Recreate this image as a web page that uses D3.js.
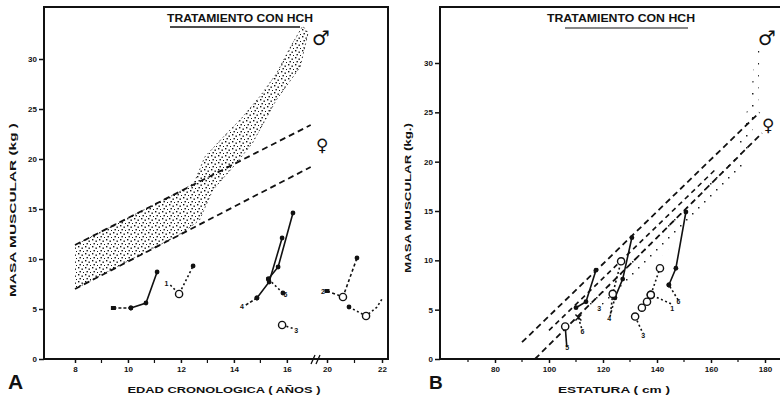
<!DOCTYPE html>
<html>
<head>
<meta charset="utf-8">
<script src="https://cdn.jsdelivr.net/npm/d3@7"></script>
<style>
  body { margin: 0; background: #fff; }
  svg { display: block; }
  text { font-family: "Liberation Sans", Arial, sans-serif; font-weight: bold; fill: #111; }
  text.sym { font-family: "DejaVu Sans"; font-weight: normal; fill: #111; }
</style>
</head>
<body>
<script>
// tick values
var kgTicks = [0, 5, 10, 15, 20, 25, 30];
var ageTicks = [8, 10, 12, 14, 16, 20, 22];
var ageMinor = [9, 11, 13, 15, 21];
var heightTicks = [80, 100, 120, 140, 160, 180];
var heightMinor = [70, 90, 110, 130, 150, 170];

// panel A : normal male band (stippled), [age, kg]
var bandUpperA = [[8, 11.4], [10, 14.1], [12, 16.8], [12.5, 17.6], [12.9, 20.2], [13.6, 22.2], [14.3, 24.1], [15, 26.3], [15.6, 28.5], [16.2, 31.5], [16.6, 33.3]];
var bandLowerA = [[8, 7.0], [10, 9.8], [12, 12.5], [12.7, 13.9], [13.2, 16.9], [14.0, 19.3], [14.7, 21.6], [15.6, 25.9], [16.5, 29.2], [16.8, 32.6], [16.6, 33.3]];
// panel A : female limits (dashed)
var femUpperA = [[8, 11.4], [16.9, 23.4]];
var femLowerA = [[8, 7.0], [16.9, 19.2]];

// panel A patients: [age, kg, marker]  f filled, o open, s square, '' none
var a1 = [[11.6, 7.4, ""], [11.93, 6.5, "o"], [12.46, 9.3, "f"]];
var a2 = [[9.45, 5.1, "s"], [10.11, 5.1, "f"]];
var a2b = [[10.11, 5.1, "f"], [10.68, 5.6, "f"], [11.1, 8.7, "f"]];
var a4 = [[14.45, 5.4, ""], [14.87, 6.1, "f"]];
var a4b = [[14.87, 6.1, "f"], [15.33, 7.7, "f"], [15.82, 12.1, "f"]];
var a6 = [[15.85, 6.6, "f"], [15.3, 8.0, "f"]];
var a6b = [[15.3, 8.0, "f"], [15.67, 9.2, "f"], [16.23, 14.6, "f"]];
var a3 = [[15.82, 3.4, "o"], [16.3, 3.0, ""]];
var a7 = [[20.0, 6.8, "s"], [20.58, 6.2, "o"], [21.09, 10.1, "f"]];
var a8 = [[20.8, 5.2, "f"], [21.42, 4.3, "o"], [21.82, 5.2, ""], [22.0, 6.0, ""]];

// panel B : lines, [cm, kg]
var lineUpperB = [[90, 1.7], [178, 25.0]];
var lineMidB = [[100, 2.9], [162, 19.3]];
var lineLowerB = [[94.8, 0], [178.9, 22.9]];
var bandB = [[112, 5.5], [135, 11.5], [155, 16.5], [170, 21.5], [175, 27], [176.5, 32], [178, 32], [177.5, 26], [172, 19], [160, 15.5], [140, 10], [120, 5.5]];

// panel B patients: [cm, kg, marker]
var b3 = [[110, 5.2, "f"], [113.7, 5.8, "f"], [117.4, 9.0, "f"]];
var b4 = [[122.6, 4.3, ""], [124.4, 6.2, "f"]];
var b4b = [[124.4, 6.2, "f"], [127.3, 8.1, "f"], [130.7, 12.3, "f"]];
var b1a = [[122.8, 4.6, ""], [123.6, 6.6, "o"], [126.7, 9.9, "o"]];
var b6 = [[147.8, 6.0, ""], [144.4, 7.5, "f"]];
var b6b = [[144.4, 7.5, "f"], [147, 9.2, "f"], [150.7, 14.9, "f"]];
var b1 = [[145.2, 5.6, ""], [137.7, 6.5, "o"], [136.3, 5.8, "o"], [134.4, 5.2, "o"], [137.7, 6.5, "o"], [141.1, 9.2, "o"]];
var b3b = [[131.9, 4.3, "o"], [134.8, 2.6, ""]];
var b5 = [[106, 3.3, "o"], [106.6, 1.2, ""]];
var b6c = [[110.9, 4.2, "x"], [112.2, 3.0, ""]];

// labels next to patients
var labelsA = [["1", 11.45, 7.3], ["4", 14.3, 5.0], ["6", 15.95, 6.2], ["3", 16.35, 2.6], ["2", 19.85, 6.5]];
var labelsB = [["3", 118.6, 4.9], ["4", 122.3, 3.9], ["6", 147.9, 5.6], ["1", 145.6, 4.9], ["3", 134.9, 2.1], ["5", 106.7, 0.9], ["6", 112.4, 2.5]];

var W = 780, H = 397;
var svg = d3.select('body').append('svg').attr('width', W).attr('height', H);

// stipple pattern for the male band
var defs = svg.append('defs');
var pat = defs.append('pattern').attr('id', 'dots').attr('patternUnits', 'userSpaceOnUse')
    .attr('width', 7).attr('height', 7);
[[1, 1], [4.5, 2.5], [2.5, 5], [6, 6]].forEach(function(p) {
    pat.append('rect').attr('x', p[0]).attr('y', p[1]).attr('width', 1.4).attr('height', 1.4).attr('fill', '#111');
});
var pat2 = defs.append('pattern').attr('id', 'sparse').attr('patternUnits', 'userSpaceOnUse')
    .attr('width', 12).attr('height', 12);
[[2, 3], [8, 9]].forEach(function(p) {
    pat2.append('rect').attr('x', p[0]).attr('y', p[1]).attr('width', 1.5).attr('height', 1.5).attr('fill', '#222');
});

// scales
var xA = d3.scaleLinear().domain([8, 17.1, 19.6, 22]).range([75, 316, 316, 382]);
var yA = d3.scaleLinear().domain([0, 10]).range([359, 259]);
var xB = d3.scaleLinear().domain([80, 180]).range([495, 765]);
var yB = d3.scaleLinear().domain([0, 15]).range([359, 211]);

var gA = svg.append('g'), gB = svg.append('g');

function drawPanel(g, x, y, box) {
    // y axis
    g.append('g').attr('transform', 'translate(' + box[0] + ',0)')
        .call(d3.axisLeft(y).tickValues(kgTicks).tickSize(5).tickPadding(2))
        .call(function(s) {
            s.select('.domain').remove();
            s.selectAll('line').attr('stroke', '#111').attr('stroke-width', 1.5);
            s.selectAll('text').style('font-size', '8px').style('font-family', 'Liberation Sans').style('font-weight', 'bold');
        });
    g.append('rect').attr('x', box[0]).attr('y', box[1])
        .attr('width', box[2] - box[0]).attr('height', box[3] - box[1])
        .attr('fill', 'none').attr('stroke', '#111').attr('stroke-width', 2);
}

function pathLine(g, data, x, y, dash, w) {
    g.append('path').datum(data)
        .attr('d', d3.line().x(function(d) { return x(d[0]); }).y(function(d) { return y(d[1]); }))
        .attr('fill', 'none').attr('stroke', '#111')
        .attr('stroke-width', w || 1.6)
        .attr('stroke-dasharray', dash || null);
}

function markers(g, data, x, y) {
    data.forEach(function(d) {
        var px = x(d[0]), py = y(d[1]);
        if (d[2] === 'f') g.append('circle').attr('cx', px).attr('cy', py).attr('r', 2.4).attr('fill', '#111');
        if (d[2] === 'o') g.append('circle').attr('cx', px).attr('cy', py).attr('r', 3.6)
            .attr('fill', '#fff').attr('stroke', '#111').attr('stroke-width', 1.4);
        if (d[2] === 's') g.append('rect').attr('x', px - 2.5).attr('y', py - 2).attr('width', 5).attr('height', 4).attr('fill', '#111');
        if (d[2] === 'x') g.append('path').attr('d', 'M' + (px - 3) + ',' + (py - 3) + 'L' + (px + 3) + ',' + (py + 3) +
            'M' + (px + 3) + ',' + (py - 3) + 'L' + (px - 3) + ',' + (py + 3)).attr('stroke', '#111').attr('stroke-width', 1.5);
    });
}

function traj(g, data, x, y, dash) {
    pathLine(g, data, x, y, dash, 1.6);
    markers(g, data, x, y);
}

// ---------------- panel A ----------------
drawPanel(gA, xA, yA, [44, 7, 388, 359]);

var bandArea = bandUpperA.concat(bandLowerA.slice().reverse());
gA.append('path').datum(bandArea)
    .attr('d', d3.line().x(function(d) { return xA(d[0]); }).y(function(d) { return yA(d[1]); }))
    .attr('fill', 'url(#dots)').attr('stroke', '#111').attr('stroke-width', 0.8).attr('stroke-dasharray', '1.5,3');
pathLine(gA, femUpperA, xA, yA, '6,4', 1.8);
pathLine(gA, femLowerA, xA, yA, '6,4', 1.8);

// x axis of A
gA.append('g').attr('transform', 'translate(0,359)')
    .call(d3.axisBottom(xA).tickValues(ageTicks).tickSize(4).tickPadding(3))
    .call(function(s) {
        s.select('.domain').remove();
        s.selectAll('line').attr('stroke', '#111').attr('stroke-width', 1.5);
        s.selectAll('text').style('font-size', '8px').style('font-family', 'Liberation Sans').style('font-weight', 'bold');
    });
ageMinor.forEach(function(a) {
    gA.append('line').attr('x1', xA(a)).attr('x2', xA(a)).attr('y1', 359).attr('y2', 363).attr('stroke', '#111').attr('stroke-width', 1.2);
});
// axis break
gA.append('path').attr('d', 'M311,364L315,355M316,364L320,355').attr('stroke', '#111').attr('stroke-width', 1.3);

traj(gA, a1, xA, yA, '2,2.5');
traj(gA, a2, xA, yA, '3,2');
traj(gA, a2b, xA, yA, null);
traj(gA, a4, xA, yA, '3,2');
traj(gA, a4b, xA, yA, null);
traj(gA, a6, xA, yA, '2,2.5');
traj(gA, a6b, xA, yA, null);
traj(gA, a3, xA, yA, '2,2.5');
traj(gA, a7, xA, yA, '3,2.5');
traj(gA, a8, xA, yA, '2,2.5');

labelsA.forEach(function(l) {
    gA.append('text').attr('x', xA(l[1])).attr('y', yA(l[2])).attr('text-anchor', 'middle')
        .style('font-size', '7px').text(l[0]);
});

gA.append('text').attr('class', 'sym').attr('x', 312).attr('y', 45).style('font-size', '20px').text('\u2642\uFE0E');
gA.append('text').attr('class', 'sym').attr('x', 316).attr('y', 151).style('font-size', '17px').text('\u2640\uFE0E');

gA.append('text').attr('x', 240).attr('y', 22).attr('text-anchor', 'middle')
    .attr('textLength', 146).attr('lengthAdjust', 'spacingAndGlyphs').style('font-size', '10px')
    .text('TRATAMIENTO CON HCH');
gA.append('line').attr('x1', 170).attr('x2', 300).attr('y1', 27).attr('y2', 27).attr('stroke', '#111').attr('stroke-width', 1.6);

gA.append('text').attr('x', 224).attr('y', 393).attr('text-anchor', 'middle')
    .attr('textLength', 193).attr('lengthAdjust', 'spacingAndGlyphs').style('font-size', '9px')
    .text('EDAD  CRONOLOGICA ( AÑOS )');
gA.append('text').attr('transform', 'translate(16,210) rotate(-90)').attr('text-anchor', 'middle')
    .attr('textLength', 174).attr('lengthAdjust', 'spacingAndGlyphs').style('font-size', '9px')
    .text('MASA MUSCULAR  (kg )');
gA.append('text').attr('x', 8).attr('y', 389).style('font-size', '21px').text('A');

// ---------------- panel B ----------------
drawPanel(gB, xB, yB, [440, 7, 792, 359]);

gB.append('path').datum(bandB)
    .attr('d', d3.line().x(function(d) { return xB(d[0]); }).y(function(d) { return yB(d[1]); }).curve(d3.curveLinearClosed))
    .attr('fill', 'url(#sparse)').attr('stroke', 'none');
pathLine(gB, lineUpperB, xB, yB, '6,4', 1.8);
pathLine(gB, lineMidB, xB, yB, '5,4', 1.6);
pathLine(gB, lineLowerB, xB, yB, '6,4', 1.8);

gB.append('g').attr('transform', 'translate(0,359)')
    .call(d3.axisBottom(xB).tickValues(heightTicks).tickSize(4).tickPadding(3))
    .call(function(s) {
        s.select('.domain').remove();
        s.selectAll('line').attr('stroke', '#111').attr('stroke-width', 1.5);
        s.selectAll('text').style('font-size', '8px').style('font-family', 'Liberation Sans').style('font-weight', 'bold');
    });
heightMinor.forEach(function(c) {
    gB.append('line').attr('x1', xB(c)).attr('x2', xB(c)).attr('y1', 359).attr('y2', 362).attr('stroke', '#111').attr('stroke-width', 1.2);
});

traj(gB, b3, xB, yB, null);
traj(gB, b4, xB, yB, '2,2.5');
traj(gB, b4b, xB, yB, null);
traj(gB, b1a, xB, yB, '2,2.5');
traj(gB, b6, xB, yB, '2,2.5');
traj(gB, b6b, xB, yB, null);
traj(gB, b1, xB, yB, '2,2.5');
traj(gB, b3b, xB, yB, '2,2.5');
traj(gB, b5, xB, yB, null);
traj(gB, b6c, xB, yB, '2,2.5');

labelsB.forEach(function(l) {
    gB.append('text').attr('x', xB(l[1])).attr('y', yB(l[2])).attr('text-anchor', 'middle')
        .style('font-size', '7px').text(l[0]);
});

gB.append('text').attr('class', 'sym').attr('x', 758).attr('y', 45).style('font-size', '20px').text('\u2642\uFE0E');
gB.append('text').attr('class', 'sym').attr('x', 762).attr('y', 131).style('font-size', '17px').text('\u2640\uFE0E');

gB.append('text').attr('x', 621).attr('y', 22).attr('text-anchor', 'middle')
    .attr('textLength', 148).attr('lengthAdjust', 'spacingAndGlyphs').style('font-size', '10px')
    .text('TRATAMIENTO CON HCH');
gB.append('line').attr('x1', 565).attr('x2', 688).attr('y1', 28).attr('y2', 28).attr('stroke', '#111').attr('stroke-width', 1.1);

gB.append('text').attr('x', 614).attr('y', 393).attr('text-anchor', 'middle')
    .attr('textLength', 112).attr('lengthAdjust', 'spacingAndGlyphs').style('font-size', '9px')
    .text('ESTATURA  ( cm )');
gB.append('text').attr('transform', 'translate(411,198) rotate(-90)').attr('text-anchor', 'middle')
    .attr('textLength', 150).attr('lengthAdjust', 'spacingAndGlyphs').style('font-size', '9px')
    .text('MASA MUSCULAR  (kg.)');
gB.append('text').attr('x', 429).attr('y', 389).style('font-size', '19px').text('B');
</script>
</body>
</html>
